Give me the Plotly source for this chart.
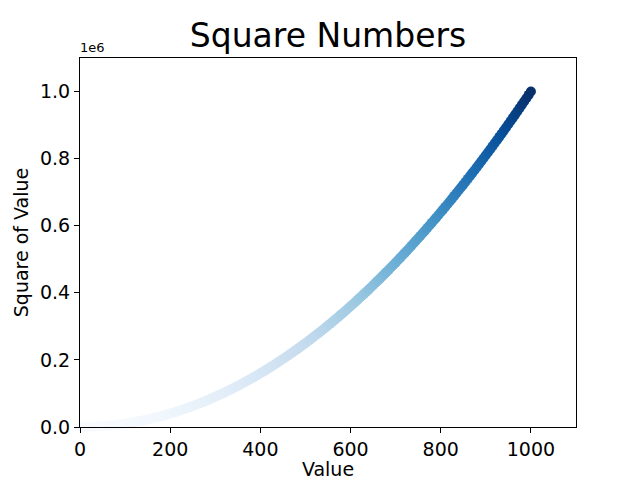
import plotly.graph_objects as go

# values (x) and their squares (y), sampled every 5
x_vals = [0, 5, 10, 15, 20, 25, 30, 35, 40, 45, 50, 55, 60, 65, 70, 75, 80, 85, 90, 95,
          100, 105, 110, 115, 120, 125, 130, 135, 140, 145, 150, 155, 160, 165, 170, 175, 180, 185, 190, 195,
          200, 205, 210, 215, 220, 225, 230, 235, 240, 245, 250, 255, 260, 265, 270, 275, 280, 285, 290, 295,
          300, 305, 310, 315, 320, 325, 330, 335, 340, 345, 350, 355, 360, 365, 370, 375, 380, 385, 390, 395,
          400, 405, 410, 415, 420, 425, 430, 435, 440, 445, 450, 455, 460, 465, 470, 475, 480, 485, 490, 495,
          500, 505, 510, 515, 520, 525, 530, 535, 540, 545, 550, 555, 560, 565, 570, 575, 580, 585, 590, 595,
          600, 605, 610, 615, 620, 625, 630, 635, 640, 645, 650, 655, 660, 665, 670, 675, 680, 685, 690, 695,
          700, 705, 710, 715, 720, 725, 730, 735, 740, 745, 750, 755, 760, 765, 770, 775, 780, 785, 790, 795,
          800, 805, 810, 815, 820, 825, 830, 835, 840, 845, 850, 855, 860, 865, 870, 875, 880, 885, 890, 895,
          900, 905, 910, 915, 920, 925, 930, 935, 940, 945, 950, 955, 960, 965, 970, 975, 980, 985, 990, 995,
          1000]
y_vals = [0, 25, 100, 225, 400, 625, 900, 1225, 1600, 2025, 2500, 3025, 3600, 4225, 4900, 5625,
          6400, 7225, 8100, 9025,
          10000, 11025, 12100, 13225, 14400, 15625, 16900, 18225, 19600, 21025, 22500, 24025,
          25600, 27225, 28900, 30625, 32400, 34225, 36100, 38025,
          40000, 42025, 44100, 46225, 48400, 50625, 52900, 55225, 57600, 60025, 62500, 65025,
          67600, 70225, 72900, 75625, 78400, 81225, 84100, 87025,
          90000, 93025, 96100, 99225, 102400, 105625, 108900, 112225, 115600, 119025, 122500, 126025,
          129600, 133225, 136900, 140625, 144400, 148225, 152100, 156025,
          160000, 164025, 168100, 172225, 176400, 180625, 184900, 189225, 193600, 198025, 202500, 207025,
          211600, 216225, 220900, 225625, 230400, 235225, 240100, 245025,
          250000, 255025, 260100, 265225, 270400, 275625, 280900, 286225, 291600, 297025, 302500, 308025,
          313600, 319225, 324900, 330625, 336400, 342225, 348100, 354025,
          360000, 366025, 372100, 378225, 384400, 390625, 396900, 403225, 409600, 416025, 422500, 429025,
          435600, 442225, 448900, 455625, 462400, 469225, 476100, 483025,
          490000, 497025, 504100, 511225, 518400, 525625, 532900, 540225, 547600, 555025, 562500, 570025,
          577600, 585225, 592900, 600625, 608400, 616225, 624100, 632025,
          640000, 648025, 656100, 664225, 672400, 680625, 688900, 697225, 705600, 714025, 722500, 731025,
          739600, 748225, 756900, 765625, 774400, 783225, 792100, 801025,
          810000, 819025, 828100, 837225, 846400, 855625, 864900, 874225, 883600, 893025, 902500, 912025,
          921600, 931225, 940900, 950625, 960400, 970225, 980100, 990025,
          1000000]

x_ticks = [0, 200, 400, 600, 800, 1000]
y_ticks = [0, 200000, 400000, 600000, 800000, 1000000]
y_tick_text = ["0.0", "0.2", "0.4", "0.6", "0.8", "1.0"]

# matplotlib "Blues"
blues = [[0.0, "#f7fbff"], [0.125, "#deebf7"], [0.25, "#c6dbef"], [0.375, "#9ecae1"],
         [0.5, "#6baed6"], [0.625, "#4292c6"], [0.75, "#2171b5"], [0.875, "#08519c"],
         [1.0, "#08306b"]]

fig = go.Figure(go.Scatter(
    x=x_vals, y=y_vals, mode="markers", cliponaxis=False,
    marker=dict(size=10, color=y_vals, colorscale=blues, line=dict(width=0), opacity=1),
    hoverinfo="x+y",
))

fnt = "DejaVu Sans, Arial, sans-serif"
# matplotlib-style offset text above the y axis
fig.add_annotation(xref="paper", yref="paper", x=0, y=1, xanchor="left", yanchor="bottom",
                   text="1e6", showarrow=False, font=dict(size=13, color="black", family=fnt),
                   xshift=-2, yshift=1)

fig.update_layout(
    width=640, height=480,
    margin=dict(l=80, r=64, t=58, b=53, autoexpand=False),
    paper_bgcolor="white", plot_bgcolor="white",
    font=dict(family=fnt, color="black"),
    title=dict(text="Square Numbers", x=0.5, xref="paper", xanchor="center",
               y=1, yref="paper", yanchor="bottom", pad=dict(b=11),
               font=dict(size=33, color="black", family=fnt)),
    xaxis=dict(range=[0, 1100], tickvals=x_ticks, showgrid=False, zeroline=False, automargin=False,
               showline=True, mirror=True, linecolor="black", linewidth=1,
               ticks="outside", ticklen=5, tickcolor="black",
               tickfont=dict(size=19), title=dict(text="Value", font=dict(size=19), standoff=4)),
    yaxis=dict(range=[0, 1100000], tickvals=y_ticks, ticktext=y_tick_text, showgrid=False,
               zeroline=False, showline=True, mirror=True, linecolor="black", linewidth=1,
               automargin=False, ticks="outside", ticklen=5, tickcolor="black",
               tickfont=dict(size=19), title=dict(text="Square of Value", font=dict(size=19), standoff=6)),
    showlegend=False,
)

fig.write_html("out.html", config={"displayModeBar": False},
               post_script="document.body.style.margin='0';")
